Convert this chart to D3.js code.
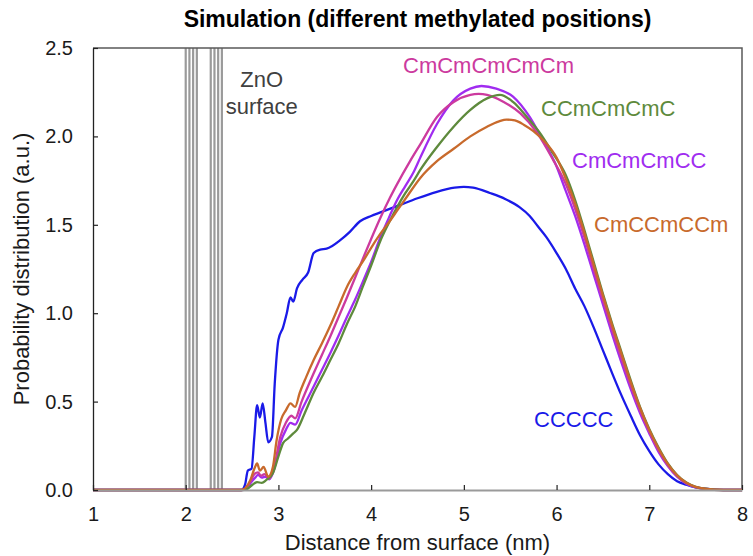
<!DOCTYPE html>
<html>
<head>
<meta charset="utf-8">
<script src="https://cdn.jsdelivr.net/npm/d3@7"></script>
<style>
  body { margin: 0; background: #fff; }
  text { font-family: "Liberation Sans", Arial, sans-serif; }
</style>
</head>
<body>
<div id="chart"></div>
<script>
(function(d3) {
  'use strict';

  // ---- data ----
  var xTicks = [1, 2, 3, 4, 5, 6, 7, 8];
  var yTicks = [0, 0.5, 1.0, 1.5, 2.0, 2.5];

  // vertical lines marking the ZnO surface (nm)
  var surfaceLines = [2.00, 2.04, 2.08, 2.12, 2.27, 2.31, 2.35, 2.39];

  var ccccc = [[1,0],[2.6,0],[2.64,0.03],[2.67,0.11],[2.71,0.12],[2.74,0.30],[2.77,0.48],
    [2.80,0.41],[2.83,0.49],[2.86,0.38],[2.89,0.27],[2.93,0.30],[2.96,0.60],[3.0,0.85],
    [3.05,0.92],[3.09,1.00],[3.13,1.09],[3.16,1.065],[3.2,1.14],[3.26,1.19],[3.32,1.23],
    [3.38,1.34],[3.45,1.36],[3.52,1.365],[3.58,1.38],[3.66,1.41],[3.77,1.46],[3.88,1.52],
    [4.0,1.55],[4.1,1.57],[4.3,1.61],[4.5,1.65],[4.7,1.685],[4.9,1.71],[5.0,1.715],
    [5.1,1.71],[5.28,1.68],[5.45,1.645],[5.6,1.60],[5.71,1.55],[5.8,1.49],[5.89,1.43],
    [6.0,1.34],[6.1,1.25],[6.2,1.14],[6.3,1.04],[6.4,0.92],[6.5,0.79],[6.6,0.66],
    [6.7,0.535],[6.8,0.42],[6.9,0.31],[7.0,0.22],[7.1,0.145],[7.2,0.09],[7.3,0.05],
    [7.4,0.03],[7.5,0.015],[7.6,0.008],[7.8,0],[8,0]];

  var cmCmCmCC = [[1,0],[2.6,0],[2.65,0.005],[2.7,0.04],[2.75,0.07],[2.78,0.085],[2.82,0.07],
    [2.86,0.075],[2.9,0.06],[2.95,0.11],[3.02,0.265],[3.08,0.34],[3.13,0.38],[3.18,0.37],
    [3.25,0.45],[3.38,0.585],[3.47,0.68],[3.56,0.775],[3.65,0.875],[3.74,0.98],[3.83,1.08],
    [3.92,1.19],[4.0,1.29],[4.1,1.43],[4.2,1.55],[4.28,1.64],[4.37,1.72],[4.46,1.80],
    [4.53,1.88],[4.71,2.07],[4.89,2.205],[5.07,2.27],[5.19,2.285],[5.35,2.27],[5.53,2.225],
    [5.71,2.11],[5.85,1.98],[6.0,1.83],[6.1,1.69],[6.2,1.55],[6.3,1.39],[6.4,1.22],
    [6.5,1.05],[6.6,0.88],[6.7,0.72],[6.8,0.57],[6.9,0.435],[7.0,0.32],[7.1,0.215],
    [7.2,0.135],[7.3,0.075],[7.4,0.036],[7.5,0.015],[7.6,0.005],[7.8,0],[8,0]];

  var cmCmCmCmCm = [[1,0],[2.6,0],[2.64,0.005],[2.7,0.05],[2.74,0.09],[2.78,0.10],[2.81,0.08],
    [2.85,0.09],[2.9,0.065],[2.95,0.12],[3.02,0.30],[3.08,0.38],[3.14,0.42],[3.18,0.405],
    [3.25,0.50],[3.38,0.66],[3.47,0.765],[3.56,0.87],[3.65,0.98],[3.74,1.09],[3.83,1.205],
    [3.92,1.32],[4.0,1.42],[4.1,1.54],[4.2,1.65],[4.28,1.73],[4.42,1.86],[4.53,1.955],
    [4.71,2.11],[4.89,2.195],[5.07,2.235],[5.16,2.24],[5.25,2.235],[5.43,2.195],[5.61,2.13],
    [5.79,2.02],[5.96,1.87],[6.1,1.73],[6.2,1.59],[6.3,1.43],[6.4,1.25],[6.5,1.075],
    [6.6,0.905],[6.7,0.745],[6.8,0.59],[6.9,0.45],[7.0,0.33],[7.1,0.225],[7.2,0.14],
    [7.3,0.078],[7.4,0.038],[7.5,0.016],[7.6,0.006],[7.8,0],[8,0]];

  var cCmCmCmC = [[1,0],[2.6,0],[2.66,0.005],[2.72,0.03],[2.77,0.045],[2.82,0.04],[2.87,0.057],
    [2.94,0.095],[3.0,0.19],[3.05,0.265],[3.1,0.29],[3.16,0.32],[3.2,0.34],[3.28,0.43],
    [3.38,0.55],[3.47,0.64],[3.56,0.735],[3.65,0.83],[3.74,0.94],[3.83,1.04],[3.91,1.15],
    [4.0,1.27],[4.1,1.41],[4.2,1.52],[4.28,1.60],[4.37,1.68],[4.46,1.75],[4.53,1.81],
    [4.71,1.94],[4.89,2.055],[5.07,2.15],[5.25,2.215],[5.39,2.235],[5.53,2.195],[5.68,2.11],
    [5.82,2.02],[5.96,1.905],[6.1,1.78],[6.2,1.64],[6.3,1.47],[6.4,1.29],[6.5,1.11],
    [6.6,0.94],[6.7,0.78],[6.8,0.62],[6.9,0.47],[7.0,0.345],[7.1,0.24],[7.2,0.15],
    [7.3,0.085],[7.4,0.042],[7.5,0.018],[7.6,0.007],[7.8,0],[8,0]];

  var cmCCmCCm = [[1,0],[2.6,0],[2.64,0.01],[2.7,0.06],[2.74,0.12],[2.77,0.15],[2.80,0.11],
    [2.84,0.13],[2.89,0.075],[2.94,0.13],[2.98,0.28],[3.03,0.40],[3.08,0.45],[3.13,0.49],
    [3.18,0.47],[3.23,0.55],[3.3,0.64],[3.38,0.735],[3.47,0.83],[3.56,0.93],[3.65,1.04],
    [3.74,1.15],[3.83,1.23],[3.92,1.30],[4.0,1.37],[4.1,1.45],[4.2,1.52],[4.28,1.58],
    [4.4,1.67],[4.53,1.765],[4.71,1.86],[4.89,1.93],[5.07,2.00],[5.25,2.055],[5.38,2.085],
    [5.46,2.095],[5.55,2.09],[5.65,2.065],[5.75,2.03],[5.89,1.96],[6.0,1.88],[6.1,1.76],
    [6.2,1.62],[6.3,1.455],[6.4,1.275],[6.5,1.10],[6.6,0.93],[6.7,0.77],[6.8,0.61],
    [6.9,0.465],[7.0,0.34],[7.1,0.235],[7.2,0.148],[7.3,0.083],[7.4,0.041],[7.5,0.018],
    [7.6,0.007],[7.8,0],[8,0]];

  var series = [
    { name: 'CCCCC',      values: ccccc,      color: '#1a1ae8', lx: 534, ly: 427 },
    { name: 'CmCmCmCC',   values: cmCmCmCC,   color: '#a02cf0', lx: 572, ly: 168 },
    { name: 'CmCmCmCmCm', values: cmCmCmCmCm, color: '#cc3a9e', lx: 403, ly: 73 },
    { name: 'CCmCmCmC',   values: cCmCmCmC,   color: '#5e8a3c', lx: 541, ly: 116 },
    { name: 'CmCCmCCm',   values: cmCCmCCm,   color: '#c86a2c', lx: 594, ly: 232 }
  ];

  // ---- layout ----
  var width = 753;
  var height = 556;
  var margin = { top: 48, right: 11, bottom: 66, left: 93 };
  var innerW = width - margin.left - margin.right;
  var innerH = height - margin.top - margin.bottom;

  var svg = d3.select('#chart')
    .append('svg')
    .attr('width', width)
    .attr('height', height);

  var g = svg.append('g')
    .attr('transform', 'translate(' + margin.left + ',' + margin.top + ')');

  var x = d3.scaleLinear().domain([1, 8]).range([0, innerW]);
  var y = d3.scaleLinear().domain([0, 2.5]).range([innerH, 0]);

  // surface lines
  g.selectAll('.surf')
    .data(surfaceLines)
    .enter()
    .append('line')
    .attr('class', 'surf')
    .attr('x1', function(d) { return x(d); })
    .attr('x2', function(d) { return x(d); })
    .attr('y1', 0)
    .attr('y2', innerH)
    .attr('stroke', '#9a9a9a')
    .attr('stroke-width', 2.2);

  // frame (top + right)
  g.append('path')
    .attr('d', 'M0,0H' + innerW + 'V' + innerH)
    .attr('fill', 'none')
    .attr('stroke', '#595959')
    .attr('stroke-width', 1.5);

  // curves
  var line = d3.line()
    .x(function(d) { return x(d[0]); })
    .y(function(d) { return y(d[1]); })
    .curve(d3.curveMonotoneX);

  g.selectAll('.curve')
    .data(series)
    .enter()
    .append('path')
    .attr('class', 'curve')
    .attr('d', function(d) { return line(d.values); })
    .attr('fill', 'none')
    .attr('stroke', function(d) { return d.color; })
    .attr('stroke-width', 2.3)
    .attr('stroke-linejoin', 'round');

  // axes
  var xAxis = g.append('g')
    .attr('transform', 'translate(0,' + innerH + ')')
    .call(d3.axisBottom(x).tickValues(xTicks).tickFormat(d3.format('d'))
      .tickSizeInner(-5).tickSizeOuter(0).tickPadding(17));
  xAxis.select('.domain').attr('stroke', '#9a9a9a').attr('stroke-width', 2);
  xAxis.selectAll('.tick line').attr('stroke', '#222').attr('stroke-width', 1.2);

  var yAxis = g.append('g')
    .call(d3.axisLeft(y).tickValues(yTicks).tickFormat(d3.format('.1f'))
      .tickSizeInner(-5).tickSizeOuter(0).tickPadding(20));
  yAxis.select('.domain').attr('stroke', '#222').attr('stroke-width', 1.3);
  yAxis.selectAll('.tick line').attr('stroke', '#222').attr('stroke-width', 1.2);

  svg.selectAll('.tick text')
    .attr('fill', '#1a1a1a')
    .style('font-size', '20px')
    .style('font-family', '"Liberation Sans", Arial, sans-serif');

  // labels
  svg.selectAll('.slabel')
    .data(series)
    .enter()
    .append('text')
    .attr('class', 'slabel')
    .attr('x', function(d) { return d.lx; })
    .attr('y', function(d) { return d.ly; })
    .attr('fill', function(d) { return d.color; })
    .style('font-size', '22px')
    .text(function(d) { return d.name; });

  var znoX = x(2.82) + margin.left;
  svg.append('text')
    .attr('x', znoX).attr('y', 87)
    .attr('text-anchor', 'middle')
    .attr('fill', '#404040')
    .style('font-size', '22px')
    .text('ZnO');
  svg.append('text')
    .attr('x', znoX).attr('y', 114)
    .attr('text-anchor', 'middle')
    .attr('fill', '#404040')
    .style('font-size', '22px')
    .text('surface');

  svg.append('text')
    .attr('x', margin.left + innerW / 2)
    .attr('y', 27)
    .attr('text-anchor', 'middle')
    .attr('fill', '#000')
    .style('font-size', '23px')
    .style('font-weight', 'bold')
    .text('Simulation (different methylated positions)');

  svg.append('text')
    .attr('x', margin.left + innerW / 2)
    .attr('y', 550)
    .attr('text-anchor', 'middle')
    .attr('fill', '#1a1a1a')
    .style('font-size', '22px')
    .text('Distance from surface (nm)');

  svg.append('text')
    .attr('transform', 'translate(29,' + (margin.top + innerH / 2) + ') rotate(-90)')
    .attr('text-anchor', 'middle')
    .attr('fill', '#1a1a1a')
    .style('font-size', '22px')
    .text('Probability distribution (a.u.)');

})(window.d3);
</script>
</body>
</html>
